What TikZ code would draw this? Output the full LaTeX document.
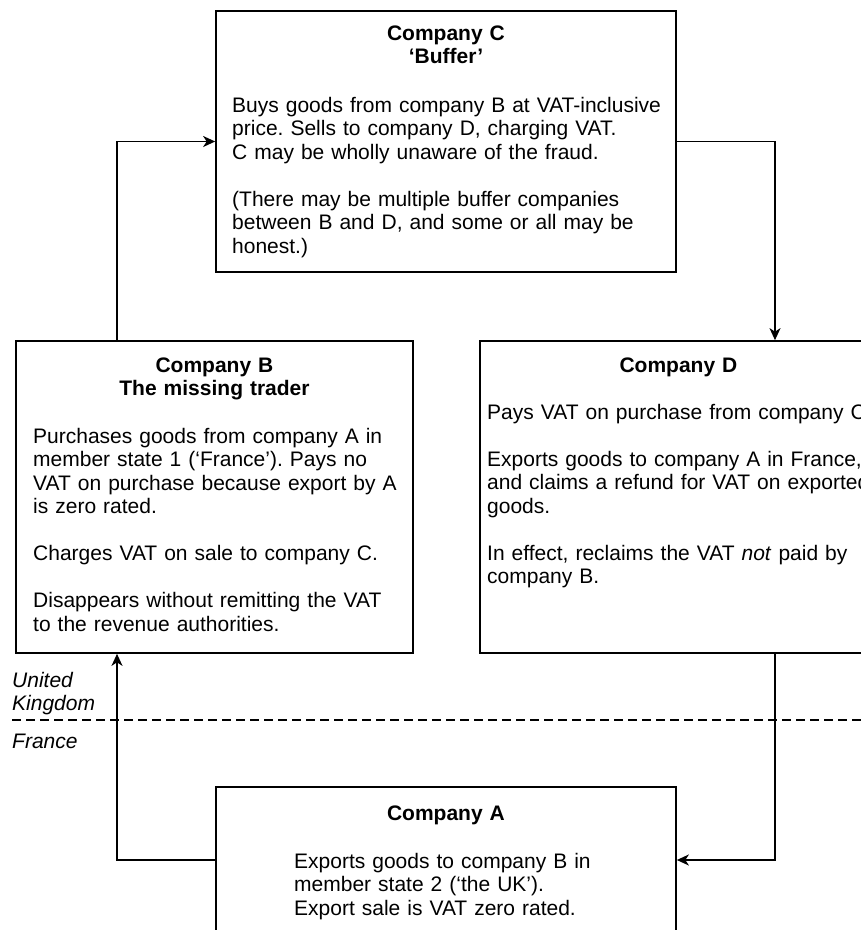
\documentclass[tikz,border=0pt]{standalone}
\usepackage{fontspec}
\setmainfont{Liberation Sans}
\usetikzlibrary{arrows.meta}
\frenchspacing
\begin{document}
\begin{tikzpicture}[x=1pt,y=-1pt,
  box/.style={draw=black, line width=1.7pt, rectangle, inner sep=0pt},
  ttl/.style={font=\bfseries\fontsize{21}{23.5}\selectfont, align=center, text width=400pt, inner sep=0pt},
  body/.style={font=\fontsize{21}{23.5}\selectfont, align=left, text width=520pt, inner sep=0pt},
  lbl/.style={font=\itshape\fontsize{21}{23.5}\selectfont, align=left, text width=120pt, inner sep=0pt},
  arr/.style={-{Stealth[length=12pt,width=11pt,inset=3.5pt]}, line width=1.6pt},
  border/.style={dashed, dash pattern=on 9pt off 5pt, line width=1.6pt}]
\useasboundingbox[fill=white] (0,0) rectangle (861,930);
\clip (0,0) rectangle (861,930);
% boxes
\node[box, minimum width=460pt, minimum height=261pt] (C) at (446,141.5) {};
\node[box, minimum width=397pt, minimum height=312pt] (B) at (214.5,497) {};
\node[box, minimum width=397pt, minimum height=312pt] (D) at (678.5,497) {};
\node[box, minimum width=460pt, minimum height=146pt] (A) at (446,860) {};
% texts of C
\node[ttl, anchor=base] (Ct) at (446,40) {Company C\\‘Buffer’};
\node[body, anchor=base west] (Cb) at (232,112) {Buys goods from company B at VAT-inclusive\\price. Sells to company D, charging VAT.\\C may be wholly unaware of the fraud.\\[23.5pt](There may be multiple buffer companies\\between B and D, and some or all may be\\honest.)};
% texts of B
\node[ttl, anchor=base] (Bt) at (214.5,372) {Company B\\The missing trader};
\node[body, anchor=base west] (Bb) at (33,443) {Purchases goods from company A in\\member state 1 (‘France’). Pays no\\VAT on purchase because export by A\\is zero rated.\\[23.5pt]Charges VAT on sale to company C.\\[23.5pt]Disappears without remitting the VAT\\to the revenue authorities.};
% texts of D
\node[ttl, anchor=base] (Dt) at (678.5,372) {Company D};
\node[body, anchor=base west] (Db) at (487,419) {Pays VAT on purchase from company C\\[23.5pt]Exports goods to company A in France,\\and claims a refund for VAT on exported\\goods.\\[23.5pt]In effect, reclaims the VAT \textit{not} paid by\\company B.};
% texts of A
\node[ttl, anchor=base] (At) at (446,820) {Company A};
\node[body, anchor=base west] (Ab) at (294,868) {Exports goods to company B in\\member state 2 (‘the UK’).\\Export sale is VAT zero rated.};
% country labels and border
\node[lbl, anchor=base west] (uk) at (12,687) {United\\Kingdom};
\node[lbl, anchor=base west] (fr) at (12,748) {France};
\coordinate (dl) at (12,720);
\coordinate (dr) at (861,720);
\draw[border] (dl) -- (dr);
% connectors
\coordinate (bx) at (117,0);
\coordinate (dx) at (775,0);
\draw[arr] (B.north -| bx) |- (C.west);
\draw[arr] (C.east) -| (D.north -| dx);
\draw[arr] (D.south -| dx) |- (A.east);
\draw[arr] (A.west) -| (B.south -| bx);
\end{tikzpicture}
\end{document}
